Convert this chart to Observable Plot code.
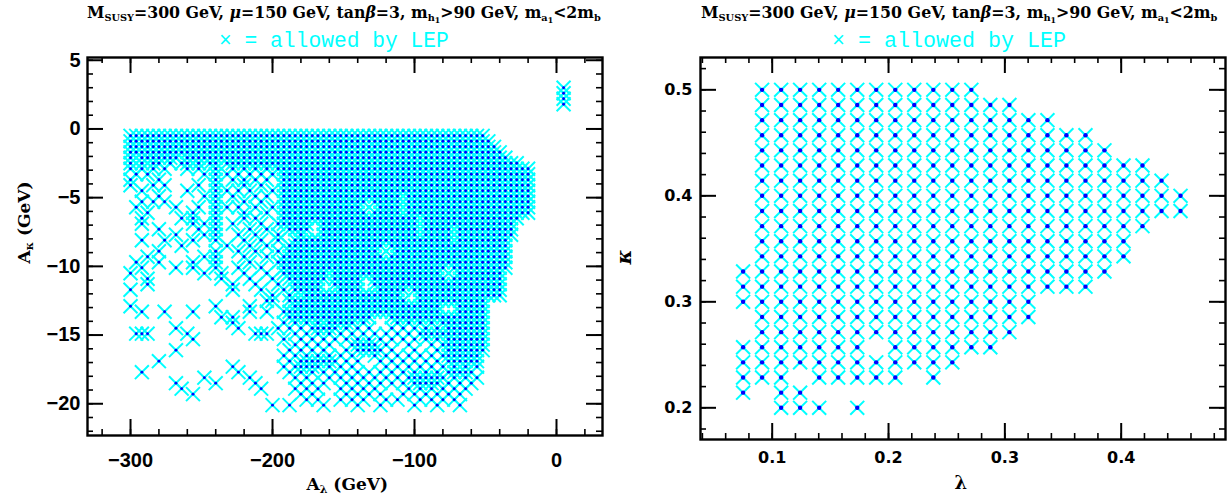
<!DOCTYPE html>
<html>
<head>
<meta charset="utf-8">
<script src="https://cdn.jsdelivr.net/npm/d3@7"></script>
<script src="https://cdn.jsdelivr.net/npm/@observablehq/plot@0.6"></script>
<style>
  html,body{margin:0;padding:0;background:#fff;}
  #root{position:relative;width:1231px;height:496px;overflow:hidden;background:#fff;}
  .panel{position:absolute;top:0;}
  .ttl{position:absolute;white-space:nowrap;font-family:"DejaVu Serif",serif;font-weight:bold;color:#000;line-height:1;}
  .ttl sub{font-size:0.62em;vertical-align:-0.3em;line-height:0;}
  .ttl sub sub{font-size:0.8em;vertical-align:-0.25em;}
  .lep{position:absolute;white-space:nowrap;font-family:"Liberation Mono",monospace;color:#00ffff;line-height:1;}
  .axt{position:absolute;white-space:nowrap;font-family:"DejaVu Serif",serif;font-weight:bold;color:#000;line-height:1;}
  .axt sub{font-size:0.65em;vertical-align:-0.3em;line-height:0;}
</style>
</head>
<body>
<div id="root"></div>
<script>
// ---------------- data: left panel (A_lambda vs A_kappa) ----------------
const leftAlambda = [-300,-296,-292,-288,-284,-280,-276,-272,-268,-264,
  -260,-256,-252,-248,-244,-240,-236,-232,-228,-224,
  -220,-216,-212,-208,-204,-200,-196,-192,-188,-184,
  -180,-176,-172,-168,-164,-160,-156,-152,-148,-144,
  -140,-136,-132,-128,-124,-120,-116,-112,-108,-104,
  -100,-96,-92,-88,-84,-80,-76,-72,-68,-64,
  -60,-56,-52,-48,-44,-40,-36,-32,-28,-24,
  -20];
const leftAkappa = [-0.5,-0.9,-1.3,-1.7,-2.1,-2.5,-2.9,-3.3,-3.7,-4.1,
  -4.5,-4.9,-5.3,-5.7,-6.1,-6.5,-6.9,-7.3,-7.7,-8.1,
  -8.5,-8.9,-9.3,-9.7,-10.1,-10.5,-10.9,-11.3,-11.7,-12.1,
  -12.5,-12.9,-13.3,-13.7,-14.1,-14.5,-14.9,-15.3,-15.7,-16.1,
  -16.5,-16.9,-17.3,-17.7,-18.1,-18.5,-18.9,-19.3,-19.7,-20.1];
// one row per A_kappa value, one character per A_lambda value ('#' = allowed point)
const leftMask = [
"########## ########## ########## ########## ########## ########## ###....... .",
"########## ########## ########## ########## ########## ########## ####...... .",
"########## ########## ########## ########## ########## ########## #####..... .",
"########## ########## ########## ########## ########## ########## ######.... .",
"#.#######. ########## ########## ########## ########## ########## #######... .",
"#.#.##.#.# #.#.##.### ########## ########## ########## ########## #########. .",
"#.#.#.#... #.#..#..#. #.#.#.#### ########## ########## ########## ########## #",
".#.#...... ...#.#.#.# .#.#.#.### ########## ########## ########## ########## #",
"#....#.... .....#..#. #.#.#..### ########## ########## ########## ########## #",
"#...#.#... ..#..#.... #..#...### ########## ########## ########## ########## #",
"..#....... #....#.#.# .#...#.### ########## ########## ########## ########## #",
".....#.... ...#.#..#. ..#.#..### ########## ########.# ########## ########## #",
"..#.#.#... .....#.... #..#...### ########## ##.#####.# ########## ########## #",
".#......#. ..#..#.#.# ..#..#.### ########## #...####.# ########## ########## #",
"...#...... .#...#.... #...#..### ########## ##.#####.# ########## ########## #",
"..#......# .#...#.... #.#....### ########## ########## #.######## #########. .",
"..#....... .#.#.#..#. ...#..#### ##..###### ########## #.######## ########.. .",
".....#.... ..#..#.... .#..#...## ##..###### ########## #.#####.## ########.. .",
"........#. ...#.#...# ..#...#... #...###### ########## #.#####.## ########.. .",
"..#...#... .#...#.... #..#..#..# ########## ########## #######.## #######... .",
".........# .......#.. .#..#...## ########## #####.#### ########## #######... .",
".....#.... .....#...# ..#...#.## ########## ####...### ########## #######... .",
"...#...... ...#.#.... #...#..### ########## #####.#### ########## #######... .",
".#...#.... .#...#.... .#....#### ########## ########## ########## #######... .",
"..#.....#. .#...#...# ...#...### ########## ########## ######.### #######... .",
"#......... ...#..#... #...#..### #####.#### ########## #####...## ######.... .",
"...#...... ......#... .#...#..## #####.#### #..####### ######.### ######.... .",
"...#...... ........#. ..#...#..# ####..#### #..####### ########## ######.... .",
"#......... ........#. ...#...#.# ####...### #...#####. ########## ######.... .",
".......... .......... .....#..#. .######### ########.. .######### ######.... .",
".......... .......... ....##..## ########## #########. .######### ###....... .",
"#......... .....#.... .#.......# ########## ########## #####...## ###....... .",
"..#...#... .#........ .#..#..### ########## ########## #####...## ###....... .",
".......... ......#.#. ........## ########## ###...#### ########## ###....... .",
".......... ........#. .......#.# .#.#.##### .#.....#.# .#.#.##### ###....... .",
"........#. .........# ......#.#. #.#####.#. #.#...#.#. #.#.#.#### ###....... .",
".###...... #......... ..###....# .#.#.#.#.# .#.#.#.#.# .######### ###....... .",
".......... .#........ .......#.. #.#.#.#.#. #.#.#.#.#. #.#.#.#### ###....... .",
".......... .......... .........# .#.#.#...# ####.#...# ...#.##### ###....... .",
"........#. .......... ........#. #.#.#...#. #####.#... #...#.#### ###....... .",
".......... .......... .......#.# .#.#.#.#.# ...#.#.#.# .#.#.##### ##........ .",
".....#.... .......... ........#. #######.#. #...#.#.#. #.#.#.#### ##........ .",
".......... ........#. .......#.# ####.#.#.# .....#.#.# .#.#.#.#.# .#........ .",
"..#....... .........# ........#. #.#.#.#.#. #.#.#.#.#. #.#.#.#### #......... .",
".......... ...#...... .#.......# .#...#.#.# .#.#.#.#.# ######.#.# .#........ .",
"........#. .....#.... ..#....... #.#.#...#. #.#.#.#.#. #####.#.#. #......... .",
".........# .......... ...#.....# .#.#...#.# .#.#.....# .#.#.#.#.# .......... .",
".......... .#........ .......... #.#.....#. #.#.#...#. #.#.#.#.#. .......... .",
".......... .......... .......... .#.#...#.# .#...#.#.. .#.#.#.#.. .......... .",
".......... .......... .....#..#. ....#..... #...#..... #...#...#. .......... ."
];
// small isolated group near A_lambda ~ 5 GeV
const islandAlambda = [5, 5, 5, 5];
const islandAkappa = [3.0, 2.6, 2.2, 1.8];

// ---------------- data: right panel (lambda vs kappa) ----------------
const rightLambda = [0.0750,0.0913,0.1077,0.1240,0.1404,0.1567,0.1731,0.1894,0.2058,0.2221,
  0.2385,0.2548,0.2712,0.2875,0.3039,0.3202,0.3366,0.3529,0.3693,0.3856,0.4020,0.4183,0.4347,0.4510];
const rightKappa = [0.5000,0.4857,0.4714,0.4571,0.4429,0.4286,0.4143,0.4000,0.3857,0.3714,0.3571,
  0.3429,0.3286,0.3143,0.3000,0.2857,0.2714,0.2571,0.2429,0.2286,0.2143,0.2000];
const rightMask = [
".############...........",
".##############.........",
".################.......",
".##################.....",
".###################....",
".#####################..",
".######################.",
".#######################",
".#######################",
".#####################..",
".####################...",
".####################...",
"####################....",
"###################.....",
"################........",
".###############........",
".##############.........",
"#######.######..........",
"############............",
"###.#####.#.............",
"#.##....................",
"..###.#................."
];

// ---------------- ticks ----------------
const leftXMajor = [-300, -200, -100, 0];
const leftXMinor = [-320,-300,-280,-260,-240,-220,-200,-180,-160,-140,-120,-100,-80,-60,-40,-20,0,20];
const leftYMajor = [-20, -15, -10, -5, 0, 5];
const leftYMinor = [-22,-21,-20,-19,-18,-17,-16,-15,-14,-13,-12,-11,-10,-9,-8,-7,-6,-5,-4,-3,-2,-1,0,1,2,3,4,5];
const rightXMajor = [0.1, 0.2, 0.3, 0.4];
const rightXMinor = [0.04,0.06,0.08,0.10,0.12,0.14,0.16,0.18,0.20,0.22,0.24,0.26,0.28,0.30,0.32,0.34,0.36,0.38,0.40,0.42,0.44,0.46,0.48];
const rightYMajor = [0.2, 0.3, 0.4, 0.5];
const rightYMinor = [0.18,0.20,0.22,0.24,0.26,0.28,0.30,0.32,0.34,0.36,0.38,0.40,0.42,0.44,0.46,0.48,0.50,0.52];

// ---------------- texts ----------------
const titleHTML = 'M<sub>SUSY</sub>=300 GeV, <i>μ</i>=150 GeV, tan<i>β</i>=3, m<sub>h<sub>1</sub></sub>&gt;90 GeV, m<sub>a<sub>1</sub></sub>&lt;2m<sub>b</sub>';
const lepText = '× = allowed by LEP';

// ---------------- build tables ----------------
const leftPts = [];
leftMask.forEach((row, k) => {
  const r = row.replace(/ /g, "");
  for (let i = 0; i < r.length && i < leftAlambda.length; i++) {
    if (r[i] === "#") leftPts.push({x: leftAlambda[i], y: leftAkappa[k]});
  }
});
islandAlambda.forEach((x, i) => leftPts.push({x, y: islandAkappa[i]}));

const rightPts = [];
rightMask.forEach((row, j) => {
  for (let c = 0; c < row.length && c < rightLambda.length; c++) {
    if (row[c] === "#") rightPts.push({x: rightLambda[c], y: rightKappa[j]});
  }
});

const CYAN = "#00ffff", BLUE = "#0000ff";

function frameTicks(xs, ys, xdom, ydom, pxW, pxH, len, sw) {
  const dx = (xdom[1] - xdom[0]) / pxW * len, dy = (ydom[1] - ydom[0]) / pxH * len;
  const o = {stroke: "#000", strokeWidth: sw};
  return [
    Plot.ruleX(xs, {x: d => d, y1: () => ydom[0], y2: () => ydom[0] + dy, ...o}),
    Plot.ruleX(xs, {x: d => d, y1: () => ydom[1], y2: () => ydom[1] - dy, ...o}),
    Plot.ruleY(ys, {y: d => d, x1: () => xdom[0], x2: () => xdom[0] + dx, ...o}),
    Plot.ruleY(ys, {y: d => d, x1: () => xdom[1], x2: () => xdom[1] - dx, ...o})
  ];
}

function panel(cfg) {
  const {pts, xdom, ydom, W, H, mL, mR, mT, mB, xMaj, xMin, yMaj, yMin, font, fs, fw, xPad, yPad, fmt, dotR} = cfg;
  const pw = W - mL - mR, ph = H - mT - mB;
  const axOpts = {tickSize: 0, label: null, fontSize: fs, fontFamily: font, fontWeight: fw};
  if (fmt) axOpts.tickFormat = fmt;
  return Plot.plot({
    width: W, height: H, marginLeft: mL, marginRight: mR, marginTop: mT, marginBottom: mB,
    style: {background: "#fff", fontFamily: font, fontSize: fs + "px"},
    x: {domain: xdom}, y: {domain: ydom},
    marks: [
      Plot.dot(pts, {x: "x", y: "y", symbol: "times", r: 6.4, stroke: CYAN, fill: "none", strokeWidth: 2}),
      Plot.dot(pts, {x: "x", y: "y", r: dotR, fill: BLUE, stroke: "none"}),
      ...frameTicks(xMin, yMin, xdom, ydom, pw, ph, 6, 1.6),
      ...frameTicks(xMaj, yMaj, xdom, ydom, pw, ph, 16, 2),
      Plot.frame({stroke: "#000", strokeWidth: 2.4}),
      Plot.axisX(xMaj, {anchor: "bottom", tickPadding: xPad, ...axOpts}),
      Plot.axisY(yMaj, {anchor: "left", tickPadding: yPad, ...axOpts})
    ]
  });
}

const root = document.getElementById("root");

const leftSvg = panel({
  pts: leftPts, xdom: [-330.3, 32.4], ydom: [-22.31, 5.2],
  W: 615, H: 496, mL: 87, mR: 13, mT: 57, mB: 61,
  xMaj: leftXMajor, xMin: leftXMinor, yMaj: leftYMajor, yMin: leftYMinor,
  font: "Liberation Sans", fs: 20, fw: "bold", xPad: 17, yPad: 7, dotR: 1.45
});
const rightSvg = panel({
  pts: rightPts, xdom: [0.03837, 0.48966], ydom: [0.1701, 0.5305],
  W: 616, H: 496, mL: 85, mR: 6, mT: 57, mB: 57,
  xMaj: rightXMajor, xMin: rightXMinor, yMaj: rightYMajor, yMin: rightYMinor,
  font: "DejaVu Sans", fs: 16, fw: "bold", xPad: 12, yPad: 8, fmt: d => String(d), dotR: 2.2
});

function place(el, left, top) {
  const d = document.createElement("div");
  d.className = "panel";
  d.style.left = left + "px"; d.style.top = top + "px";
  d.appendChild(el);
  root.appendChild(d);
}
place(leftSvg, 0, 0);
place(rightSvg, 615, 0);

function addText(cls, html, cx, top, fs, targetW, rotate) {
  const d = document.createElement("div");
  d.className = cls;
  d.innerHTML = html;
  d.style.fontSize = fs + "px";
  root.appendChild(d);
  if (targetW) {
    const w = d.getBoundingClientRect().width;
    d.style.fontSize = (fs * targetW / w) + "px";
  }
  const w = d.offsetWidth, h = d.offsetHeight;
  if (rotate) {
    d.style.left = (cx - w / 2) + "px";
    d.style.top = (top - h / 2) + "px";
    d.style.transform = "rotate(-90deg)";
  } else {
    d.style.left = (cx - w / 2) + "px";
    d.style.top = top + "px";
  }
  return d;
}

// titles
addText("ttl", titleHTML, 344, 5, 16, 514);
addText("ttl", titleHTML, 959, 5, 16, 517);
addText("lep", lepText, 334, 31, 21, 230);
addText("lep", lepText, 949, 31, 21, 234);
// axis titles
addText("axt", 'A<sub>λ</sub> (GeV)', 347, 476, 17);
addText("axt", 'A<sub>κ</sub> (GeV)', 24, 222, 17, 0, true);
addText("axt", 'λ', 961, 474, 18);
addText("axt", '<i>κ</i>', 623, 257, 20, 0, true);
</script>
</body>
</html>
